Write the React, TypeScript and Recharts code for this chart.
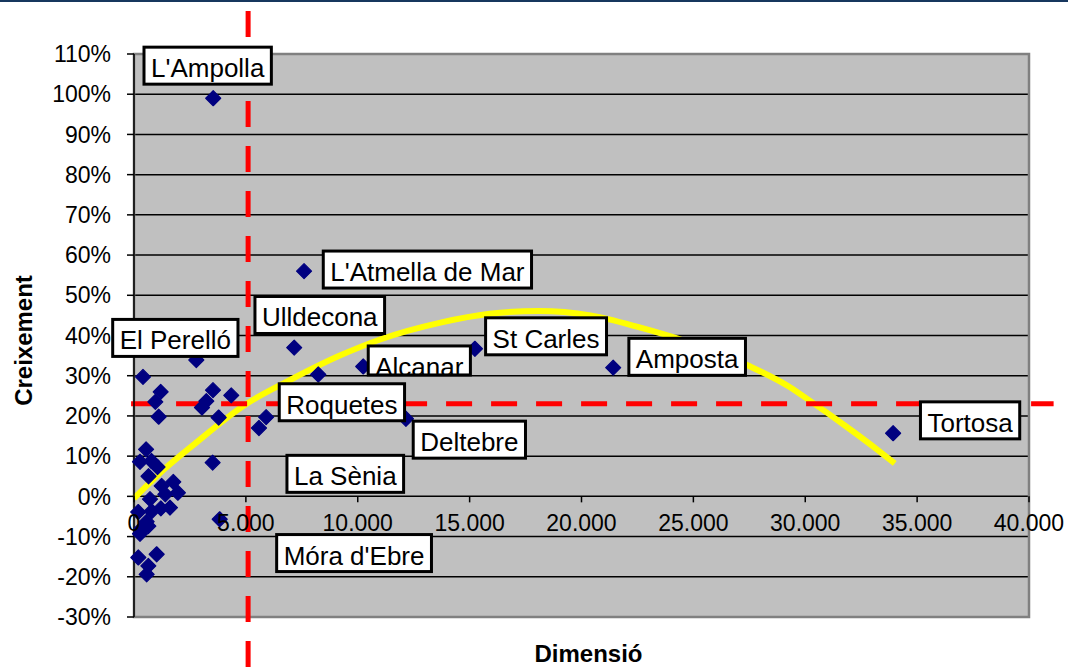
import React from 'react';
import {
  ComposedChart,
  XAxis,
  YAxis,
  CartesianGrid,
  Scatter,
  Line,
  ReferenceLine,
  ReferenceDot,
  ReferenceArea,
} from 'recharts';

// Municipalities: population (Dimensió) vs growth (Creixement)
const municipalityPoints = [
  { x: 3540, y: 0.99 },
  { x: 7600, y: 0.56 },
  { x: 7160, y: 0.37 },
  { x: 8235, y: 0.303 },
  { x: 10245, y: 0.323 },
  { x: 15236, y: 0.367 },
  { x: 21416, y: 0.32 },
  { x: 12153, y: 0.193 },
  { x: 33927, y: 0.157 },
  { x: 3830, y: -0.057 },
  { x: 2785, y: 0.339 },
  { x: 3530, y: 0.264 },
  { x: 3232, y: 0.237 },
  { x: 3038, y: 0.221 },
  { x: 4347, y: 0.251 },
  { x: 3784, y: 0.196 },
  { x: 5905, y: 0.197 },
  { x: 5585, y: 0.17 },
  { x: 3515, y: 0.084 },
  { x: 402, y: 0.297 },
  { x: 1192, y: 0.26 },
  { x: 953, y: 0.235 },
  { x: 1103, y: 0.198 },
  { x: 540, y: 0.117 },
  { x: 268, y: 0.086 },
  { x: 780, y: 0.088 },
  { x: 1050, y: 0.073 },
  { x: 650, y: 0.05 },
  { x: 1236, y: 0.026 },
  { x: 1757, y: 0.036 },
  { x: 1960, y: 0.009 },
  { x: 1400, y: 0.005 },
  { x: 715, y: -0.007 },
  { x: 1608, y: -0.028 },
  { x: 1200, y: -0.03 },
  { x: 790, y: -0.037 },
  { x: 190, y: -0.039 },
  { x: 566, y: -0.063 },
  { x: 641, y: -0.074 },
  { x: 342, y: -0.08 },
  { x: 268, y: -0.093 },
  { x: 193, y: -0.152 },
  { x: 1013, y: -0.144 },
  { x: 641, y: -0.173 },
  { x: 566, y: -0.194 },
];

// Polynomial trend
const trendPoints = [
  { x: 0, y: -0.005 },
  { x: 1200, y: 0.06 },
  { x: 2700, y: 0.13 },
  { x: 5000, y: 0.229 },
  { x: 7000, y: 0.29 },
  { x: 9200, y: 0.35 },
  { x: 11000, y: 0.39 },
  { x: 13700, y: 0.432 },
  { x: 15900, y: 0.454 },
  { x: 18100, y: 0.461 },
  { x: 20400, y: 0.45 },
  { x: 22600, y: 0.42 },
  { x: 24800, y: 0.383 },
  { x: 27500, y: 0.324 },
  { x: 29300, y: 0.272 },
  { x: 30200, y: 0.238 },
  { x: 31800, y: 0.175 },
  { x: 33200, y: 0.117 },
  { x: 34000, y: 0.082 },
];

// Municipality name boxes, anchored (top-left) in data units
const municipalityLabels = [
  { name: "L'Ampolla", x: 447, y: 1.117 },
  { name: "L'Atmella de Mar", x: 8459, y: 0.61 },
  { name: 'Ulldecona', x: 5406, y: 0.497 },
  { name: 'El Perelló', x: -952, y: 0.44 },
  { name: 'Alcanar', x: 10469, y: 0.374 },
  { name: 'St Carles', x: 15714, y: 0.444 },
  { name: 'Amposta', x: 22117, y: 0.393 },
  { name: 'Roquetes', x: 6492, y: 0.28 },
  { name: 'Deltebre', x: 12479, y: 0.187 },
  { name: 'La Sènia', x: 6836, y: 0.102 },
  { name: "Móra d'Ebre", x: 6376, y: -0.095 },
  { name: 'Tortosa', x: 35149, y: 0.235 },
];

const xTickValues = [0, 5000, 10000, 15000, 20000, 25000, 30000, 35000, 40000];
const yTickValues = [-0.3, -0.2, -0.1, 0, 0.1, 0.2, 0.3, 0.4, 0.5, 0.6, 0.7, 0.8, 0.9, 1.0, 1.1];

// Reference thresholds (red dashed lines)
const sizeThreshold = 5100;
const growthThreshold = 0.23;

const FONT = '"Liberation Sans", Arial, sans-serif';

let measureCtx: CanvasRenderingContext2D | null = null;
function measureText(text: string, font: string): number {
  if (!measureCtx) measureCtx = document.createElement('canvas').getContext('2d');
  if (!measureCtx) return text.length * 14;
  measureCtx.font = font;
  return measureCtx.measureText(text).width;
}

const fmtThousands = (v: number) =>
  v === 0 ? '0' : `${Math.floor(v / 1000)}.${String(v % 1000).padStart(3, '0')}`;

const Diamond = (props: any) => {
  const { cx, cy } = props;
  const r = 7.5;
  return (
    <polygon
      points={`${cx},${cy - r} ${cx + r},${cy} ${cx},${cy + r} ${cx - r},${cy}`}
      fill="#000080"
      stroke="#000080"
      strokeWidth={1.2}
      strokeLinejoin="round"
    />
  );
};

const labelHeightOverride: Record<string, number> = { Alcanar: 29 };

const LabelBox = (props: any) => {
  const { cx, cy, name } = props;
  const fontSize = 26;
  const w = measureText(name, `${fontSize}px "Liberation Sans", Arial`) + 14;
  const h = labelHeightOverride[name] ?? 37;
  const id = `clip-${name.replace(/[^a-zA-Z]/g, '')}`;
  return (
    <g>
      <defs>
        <clipPath id={id}>
          <rect x={cx} y={cy} width={w} height={h} />
        </clipPath>
      </defs>
      <rect x={cx} y={cy} width={w} height={h} fill="#fff" stroke="#000" strokeWidth={3} />
      <text
        x={cx + 7}
        y={cy + 30}
        fontSize={fontSize}
        fontFamily={FONT}
        fill="#000"
        clipPath={`url(#${id})`}
      >
        {name}
      </text>
    </g>
  );
};

const XTickMark = (props: any) => {
  const { cx, cy, value } = props;
  return (
    <g>
      <line x1={cx} y1={cy} x2={cx} y2={cy + 6} stroke="#000" strokeWidth={1.5} />
      <text x={cx} y={cy + 35} textAnchor="middle" fontSize={23} fontFamily={FONT} fill="#000">
        {fmtThousands(value)}
      </text>
    </g>
  );
};

export default function App() {
  return (
    <div style={{ position: 'absolute', left: 0, top: 0, width: 1068, height: 668, background: '#fff' }}>
      <div style={{ position: 'absolute', left: 0, top: 0, width: 1068, height: 2, background: '#17375E' }} />
      <ComposedChart
        width={1068}
        height={668}
        margin={{ top: 54, right: 39, bottom: 0, left: 0 }}
        style={{ fontFamily: FONT }}
      >
        <CartesianGrid
          horizontal
          vertical={false}
          fill="#C0C0C0"
          fillOpacity={1}
          stroke="#000"
          strokeWidth={1.5}
        />
        <ReferenceArea
          x1={0}
          x2={40000}
          y1={-0.3}
          y2={1.1}
          fill="none"
          stroke="#808080"
          strokeWidth={2.5}
          ifOverflow="visible"
        />
        <XAxis
          type="number"
          dataKey="x"
          domain={[0, 40000]}
          height={51}
          tick={false}
          tickLine={false}
          axisLine={false}
          label={{
            content: (p: any) => {
              const vb = p.viewBox || {};
              return (
                <text
                  x={vb.x + vb.width / 2 + 7}
                  y={vb.y + 45}
                  textAnchor="middle"
                  fontSize={24}
                  fontWeight="bold"
                  fontFamily={FONT}
                  fill="#000"
                >
                  Dimensió
                </text>
              );
            },
          }}
        />
        <YAxis
          type="number"
          dataKey="y"
          width={134}
          domain={[-0.3, 1.1]}
          ticks={yTickValues}
          interval={0}
          tickSize={7}
          tickMargin={16}
          tickFormatter={(v: number) => `${Math.round(v * 100)}%`}
          tick={{ fontSize: 23, fill: '#000', fontFamily: FONT }}
          tickLine={{ stroke: '#000', strokeWidth: 1.5 }}
          axisLine={{ stroke: '#000', strokeWidth: 1.5 }}
          label={{
            content: (p: any) => {
              const vb = p.viewBox || {};
              const x = 23;
              const y = vb.y + vb.height / 2 + 5;
              return (
                <text
                  x={x}
                  y={y}
                  transform={`rotate(-90 ${x} ${y})`}
                  textAnchor="middle"
                  dominantBaseline="central"
                  fontSize={24}
                  fontWeight="bold"
                  fontFamily={FONT}
                  fill="#000"
                >
                  Creixement
                </text>
              );
            },
          }}
        />
        <Scatter
          data={municipalityPoints}
          dataKey="y"
          shape={<Diamond />}
          isAnimationActive={false}
        />
        <Line
          data={trendPoints}
          dataKey="y"
          type="monotone"
          stroke="#FFFF00"
          strokeWidth={6}
          dot={false}
          activeDot={false}
          isAnimationActive={false}
        />
        {xTickValues.map((v) => (
          <ReferenceDot
            key={`xt-${v}`}
            x={v}
            y={0}
            ifOverflow="visible"
            shape={(p: any) => <XTickMark {...p} value={v} />}
          />
        ))}
        <ReferenceLine
          segment={[
            { x: sizeThreshold, y: 1.207 },
            { x: sizeThreshold, y: -0.43 },
          ]}
          stroke="#FF0000"
          strokeWidth={5}
          strokeDasharray="26 19"
          ifOverflow="visible"
        />
        <ReferenceLine
          segment={[
            { x: -130, y: growthThreshold },
            { x: 41100, y: growthThreshold },
          ]}
          stroke="#FF0000"
          strokeWidth={5}
          strokeDasharray="26 19"
          ifOverflow="visible"
        />
        {municipalityLabels.map((l) => (
          <ReferenceDot
            key={l.name}
            x={l.x}
            y={l.y}
            ifOverflow="visible"
            shape={(p: any) => <LabelBox {...p} name={l.name} />}
          />
        ))}
      </ComposedChart>
    </div>
  );
}
